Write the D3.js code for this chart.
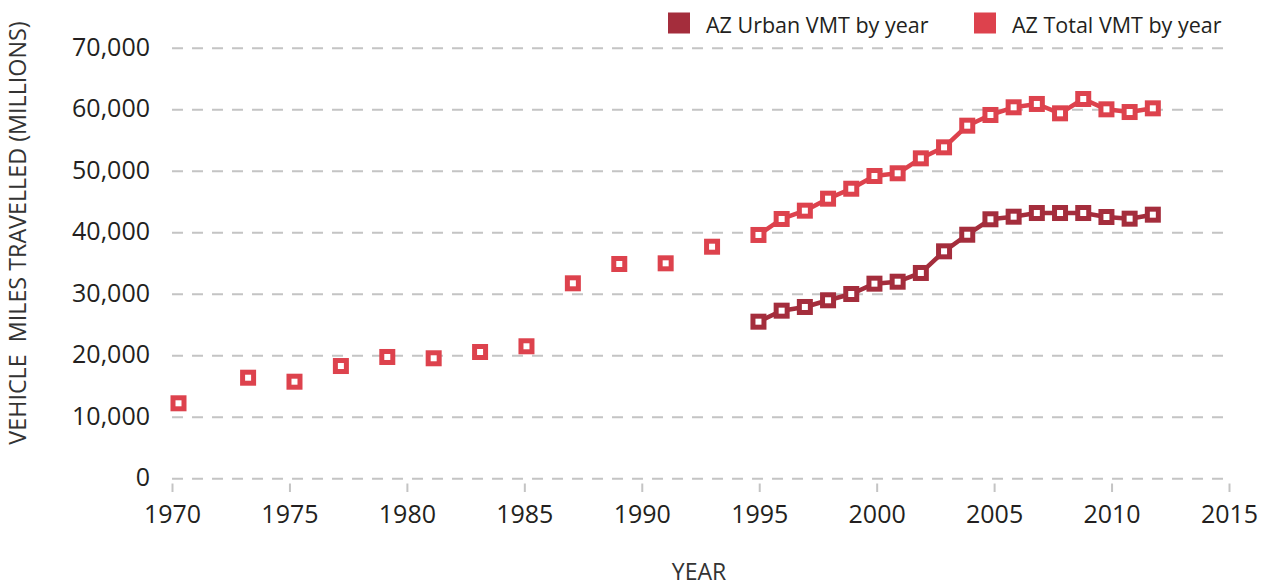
<!DOCTYPE html>
<html>
<head>
<meta charset="utf-8">
<script src="https://cdn.jsdelivr.net/npm/d3@7"></script>
<style>
  body { margin: 0; background: #fff; }
  svg { display: block; font-family: "Open Sans", sans-serif; }
  .yaxis .tick line { stroke: #c4c4c4; stroke-width: 2; stroke-dasharray: 11 9; }
  .xaxis .tick line { stroke: #c4c4c4; stroke-width: 2; }
  .tick text { font-family: "Open Sans", sans-serif; font-size: 25px; fill: #231f20; }
  .label-style { font-size: 23px; fill: #333; }
  .legend text { font-size: 21.5px; fill: #231f20; }
</style>
</head>
<body>
<svg class="vmt-chart"></svg>
<script>
// AZ vehicle miles travelled, millions
const totalYears = [1970, 1973, 1975, 1977, 1979, 1981, 1983, 1985, 1987, 1989, 1991, 1993,
  1995, 1996, 1997, 1998, 1999, 2000, 2001, 2002, 2003, 2004, 2005, 2006, 2007, 2008, 2009, 2010, 2011, 2012];
const totalVMT = [12180, 16340, 15690, 18240, 19710, 19500, 20520, 21450, 31690, 34830, 34940, 37640,
  39550, 42150, 43500, 45450, 47070, 49140, 49580, 52010, 53800, 57320, 59060, 60310, 60850, 59330, 61660, 59980, 59540, 60140];
const urbanYears = [1995, 1996, 1997, 1998, 1999, 2000, 2001, 2002, 2003, 2004, 2005, 2006, 2007, 2008, 2009, 2010, 2011, 2012];
const urbanVMT = [25450, 27240, 27840, 28930, 29950, 31630, 31950, 33370, 36890, 39590, 42100, 42520, 43120, 43120, 43120, 42470, 42200, 42850];
// only the annual series (1995 on) is joined by a line
const lineFrom = 1995;

const xTicks = [1970, 1975, 1980, 1985, 1990, 1995, 2000, 2005, 2010, 2015];
const yTicks = [0, 10000, 20000, 30000, 40000, 50000, 60000, 70000];

const legendItems = ["AZ Urban VMT by year", "AZ Total VMT by year"];
const colors = {urban: "#a42d3c", total: "#dd424d"};

const margin = {top: 47.7, right: 37, bottom: 107.8, left: 172};
const W = 1266, H = 586;
const width = W - margin.left - margin.right;
const height = H - margin.top - margin.bottom;

const svg = d3.select(".vmt-chart")
  .attr("width", W)
  .attr("height", H)
  .append("g")
  .attr("transform", "translate(" + margin.left + "," + margin.top + ")");

const x = d3.scaleLinear().domain([1970, 2015]).range([0, width]);
// the markers in the original sit on a slightly tighter scale than the axis ticks
const xPt = d3.scaleLinear().domain([1970, 2012]).range([x(1970) + 6.5, x(2012) - 5.7]);
const y = d3.scaleLinear().domain([0, 70000]).range([height, 0]);

// gridlines + y labels
svg.append("g")
  .attr("class", "yaxis")
  .call(d3.axisLeft(y).tickValues(yTicks).tickSize(-width).tickPadding(22).tickFormat(d3.format(",")))
  .call(g => g.select(".domain").remove())
  .selectAll(".tick text")
    .attr("dy", "0.3em");

svg.append("g")
  .attr("class", "xaxis")
  .attr("transform", "translate(0," + (height + 5.3) + ")")
  .call(d3.axisBottom(x).tickValues(xTicks).tickSize(8.5).tickPadding(13).tickFormat(d3.format("d")))
  .call(g => g.select(".domain").remove());

svg.append("text")
  .attr("class", "label-style")
  .attr("x", width / 2 - 1.5)
  .attr("y", height + 101.8)
  .style("text-anchor", "middle")
  .text("YEAR");

svg.append("text")
  .attr("class", "label-style")
  .attr("transform", "translate(" + (-146) + "," + (233 - margin.top) + ") rotate(-90)")
  .style("text-anchor", "middle")
  .style("font-size", "23.3px")
  .text("VEHICLE\u00a0 MILES TRAVELLED (MILLIONS)");

const total = totalYears.map((yr, i) => ({year: yr, value: totalVMT[i]}));
const urban = urbanYears.map((yr, i) => ({year: yr, value: urbanVMT[i]}));

const line = d3.line()
  .x(d => xPt(d.year))
  .y(d => y(d.value));

function addSeries(data, color) {
  svg.append("path")
    .datum(data.filter(d => d.year >= lineFrom))
    .attr("class", "line")
    .attr("d", line)
    .attr("fill", "none")
    .attr("stroke", color)
    .attr("stroke-width", 4.5)
    .attr("stroke-linejoin", "round");

  svg.append("g").selectAll("rect")
    .data(data)
    .join("rect")
      .attr("x", d => xPt(d.year) - 5.5)
      .attr("y", d => y(d.value) - 5.5)
      .attr("width", 11)
      .attr("height", 11)
      .attr("fill", "#fff")
      .attr("stroke", color)
      .attr("stroke-width", 5);
}

addSeries(urban, colors.urban);
addSeries(total, colors.total);

// legend, top right
const legend = d3.select(".vmt-chart").append("g").attr("class", "legend");
const legendX = [668, 974];
const legendColors = [colors.urban, colors.total];
legendItems.forEach((name, i) => {
  legend.append("rect")
    .attr("x", legendX[i])
    .attr("y", 12.5)
    .attr("width", 22)
    .attr("height", 21)
    .attr("fill", legendColors[i]);
  legend.append("text")
    .attr("x", legendX[i] + 38)
    .attr("y", 33)
    .text(name);
});
</script>
</body>
</html>
